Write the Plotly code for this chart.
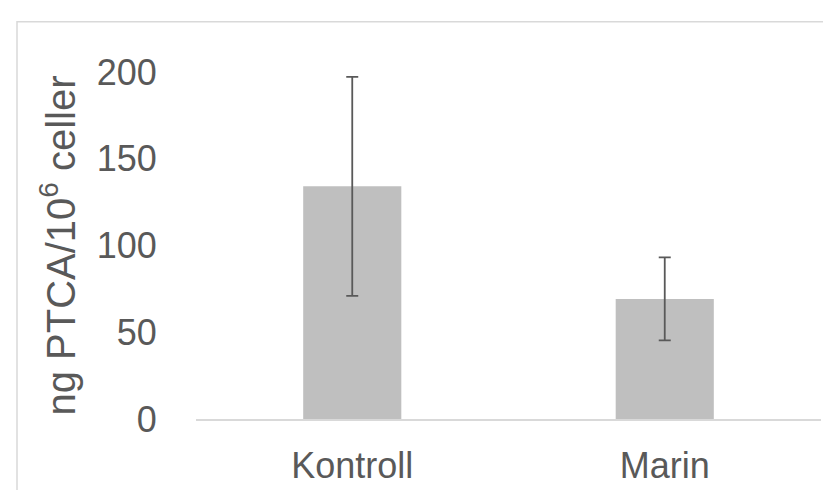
import plotly.graph_objects as go

categories = ["Kontroll", "Marin"]
values = [134.1, 69.2]
errors = [63.1, 23.9]
y_ticks = [0, 50, 100, 150, 200]

fig = go.Figure()
fig.add_trace(go.Bar(
    x=categories, y=values,
    marker=dict(color="#BFBFBF", line=dict(width=0)),
    error_y=dict(type="data", array=errors, visible=True, color="#595959", thickness=1.8, width=6),
))

L, R, T, B = 188, 18, 64, 74
W, H = 831, 490
pw, ph = W - L - R, H - T - B

fig.update_layout(
    width=W, height=H,
    margin=dict(l=L, r=R, t=T, b=B),
    paper_bgcolor="white", plot_bgcolor="white",
    bargap=0.686,
    showlegend=False,
    font=dict(family="Liberation Sans, Arial", color="#595959"),
    xaxis=dict(showgrid=False, showline=True, linecolor="#D9D9D9", linewidth=1.5,
               tickfont=dict(size=36, color="#595959"), ticks="outside", ticklen=14,
               tickcolor="rgba(0,0,0,0)"),
    yaxis=dict(range=[0, 200], tickvals=y_ticks, showgrid=False, showline=False, zeroline=False,
               tickfont=dict(size=36, color="#595959"), ticks="outside", ticklen=31,
               tickcolor="rgba(0,0,0,0)",
               title=dict(text="ng PTCA/10<sup>6</sup> celler", font=dict(size=40, color="#595959"), standoff=8)),
    shapes=[dict(type="rect", xref="paper", yref="paper",
                 x0=(9 - L) / pw, x1=(W + 10 - L) / pw,
                 y0=-(H + 10 - T - ph) / ph, y1=(T + ph - 13) / ph,
                 line=dict(color="#D9D9D9", width=1.5), fillcolor="rgba(0,0,0,0)", layer="below")],
)

fig.write_html("out.html")
